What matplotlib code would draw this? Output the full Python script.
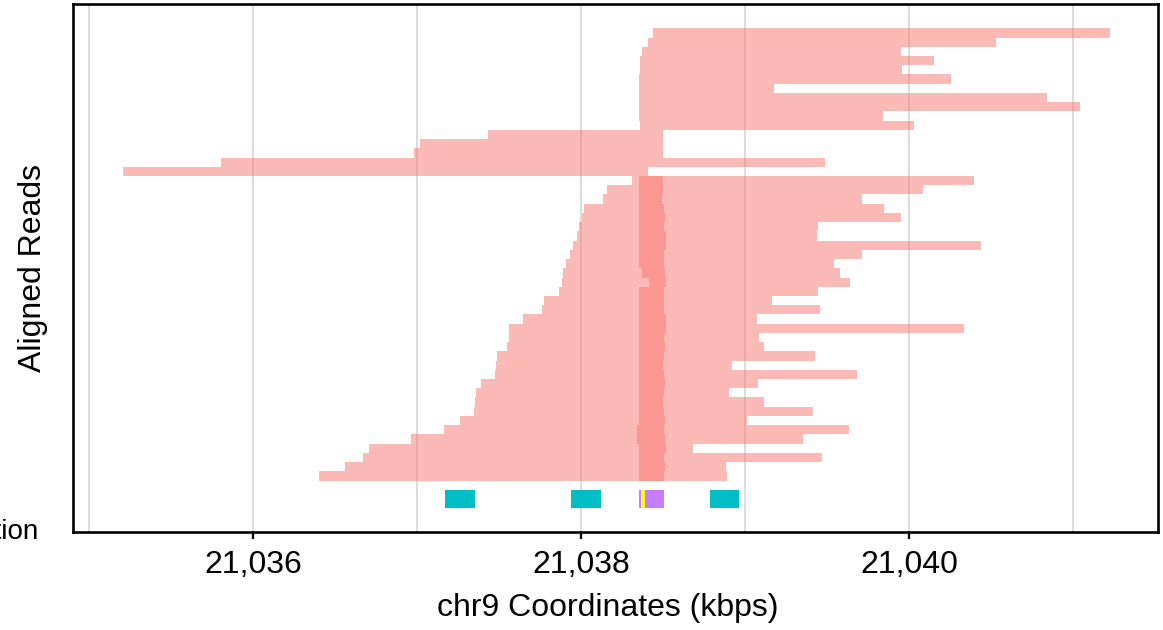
import matplotlib
matplotlib.use('Agg')
import matplotlib.pyplot as plt
from matplotlib.ticker import FixedLocator, FuncFormatter

# ---------------- data (kbp) ----------------
# reads aligned only to the right of the breakpoint (top block)
top_start = [21038.441, 21038.407, 21038.370, 21038.358, 21038.358, 21038.352,
             21038.350, 21038.350, 21038.350, 21038.350, 21038.361]
top_end = [21041.226, 21040.527, 21039.948, 21040.151, 21039.957, 21040.253,
           21039.177, 21040.843, 21041.041, 21039.840, 21040.030]

# reads aligned mostly to the left
mid_start = [21037.433, 21037.018, 21036.982, 21035.805, 21035.208]
mid_end = [21038.500, 21038.500, 21038.500, 21039.488, 21038.407]

# split reads: left segment [start, left_end], right segment [right_start, end]
split_start = [21038.309, 21038.159, 21038.131, 21038.019, 21038.003, 21037.988,
               21037.973, 21037.948, 21037.932, 21037.905, 21037.891, 21037.881,
               21037.866, 21037.775, 21037.763, 21037.643, 21037.560, 21037.560,
               21037.549, 21037.485, 21037.480, 21037.474, 21037.389, 21037.358,
               21037.352, 21037.346, 21037.263, 21037.162, 21036.962, 21036.704,
               21036.672, 21036.560, 21036.403]
split_left_end = [21038.500, 21038.500, 21038.491, 21038.505, 21038.511, 21038.505,
                  21038.517, 21038.517, 21038.505, 21038.505, 21038.511, 21038.517,
                  21038.505, 21038.505, 21038.505, 21038.517, 21038.517, 21038.505,
                  21038.511, 21038.505, 21038.498, 21038.505, 21038.511, 21038.505,
                  21038.498, 21038.505, 21038.511, 21038.505, 21038.511, 21038.517,
                  21038.505, 21038.511, 21038.505]
split_right_start = [21038.355, 21038.352, 21038.352, 21038.355, 21038.355, 21038.355,
                     21038.352, 21038.355, 21038.355, 21038.355, 21038.369, 21038.413,
                     21038.355, 21038.355, 21038.355, 21038.355, 21038.355, 21038.355,
                     21038.352, 21038.355, 21038.355, 21038.355, 21038.355, 21038.355,
                     21038.355, 21038.355, 21038.352, 21038.343, 21038.343, 21038.355,
                     21038.355, 21038.352, 21038.355]
split_end = [21040.397, 21040.082, 21039.710, 21039.845, 21039.950, 21039.446,
             21039.436, 21040.436, 21039.710, 21039.540, 21039.578, 21039.637,
             21039.446, 21039.162, 21039.457, 21039.074, 21040.336, 21039.084,
             21039.113, 21039.424, 21038.921, 21039.683, 21039.077, 21038.900,
             21039.113, 21039.415, 21039.011, 21039.633, 21039.350, 21038.683,
             21039.471, 21038.882, 21038.892]

# annotation track
anno_start = [21037.173, 21037.938, 21038.354, 21038.785]
anno_end = [21037.352, 21038.119, 21038.505, 21038.964]
anno_color = ['#00BFC4', '#00BFC4', '#C77CFF', '#00BFC4']
mark_start = [21038.364]
mark_end = [21038.389]

x_ticks = [21036, 21038, 21040]
x_grid = [21035, 21036, 21037, 21038, 21039, 21040, 21041]

READ_COLOR = '#F8766D'
W, H = 1163, 630

plt.rcParams['font.family'] = ['Liberation Sans', 'DejaVu Sans']
fig = plt.figure(figsize=(W / 100, H / 100), dpi=100)
ax_l, ax_r, ax_t, ax_b = 73.3, 1157.5, 3.5, 531.7
ax = fig.add_axes([ax_l / W, 1 - ax_b / H, (ax_r - ax_l) / W, (ax_b - ax_t) / H])

# grid
for g in x_grid:
    ax.axvline(g, color='#dcdcdc', lw=1.4, zorder=0)

row = 0
for s, e in zip(top_start, top_end):
    ax.barh(row + 0.5, e - s, left=s, height=1.0, color=READ_COLOR, alpha=0.5,
            linewidth=0, zorder=2)
    row += 1
for s, e in zip(mid_start, mid_end):
    ax.barh(row + 0.5, e - s, left=s, height=1.0, color=READ_COLOR, alpha=0.5,
            linewidth=0, zorder=2)
    row += 1
for s, le, rs, e in zip(split_start, split_left_end, split_right_start, split_end):
    ax.barh(row + 0.5, le - s, left=s, height=1.0, color=READ_COLOR, alpha=0.5,
            linewidth=0, zorder=2)
    ax.barh(row + 0.5, e - rs, left=rs, height=1.0, color=READ_COLOR, alpha=0.5,
            linewidth=0, zorder=2)
    row += 1

anno_y = row + 2
for s, e, c in zip(anno_start, anno_end, anno_color):
    ax.barh(anno_y, e - s, left=s, height=2.0, color=c, linewidth=0, zorder=3)
for s, e in zip(mark_start, mark_end):
    ax.barh(anno_y, e - s, left=s, height=2.0, color='#FFFF00', linewidth=0, zorder=4)

ax.set_xlim(21034.904, 21041.514)
ax.set_ylim(54.54, -2.687)

ax.xaxis.set_major_locator(FixedLocator(x_ticks))
ax.xaxis.set_major_formatter(FuncFormatter(lambda v, p: f'{v:,.0f}'))
ax.tick_params(axis='x', length=5, width=1.6, labelsize=23, pad=8, colors='black')
ax.set_yticks([])
for sp in ax.spines.values():
    sp.set_linewidth(1.9)
    sp.set_color('black')

fig.text(608 / W, 1 - 608 / H, 'chr9 Coordinates (kbps)', ha='center', va='center',
         fontsize=23)
fig.text(33 / W, 1 - 268 / H, 'Aligned Reads', ha='center', va='center',
         rotation=90, fontsize=23)
fig.text(39 / W, 1 - 532 / H, 'Annotation', ha='right', va='center', fontsize=20)

fig.savefig('out.png', dpi=100)
